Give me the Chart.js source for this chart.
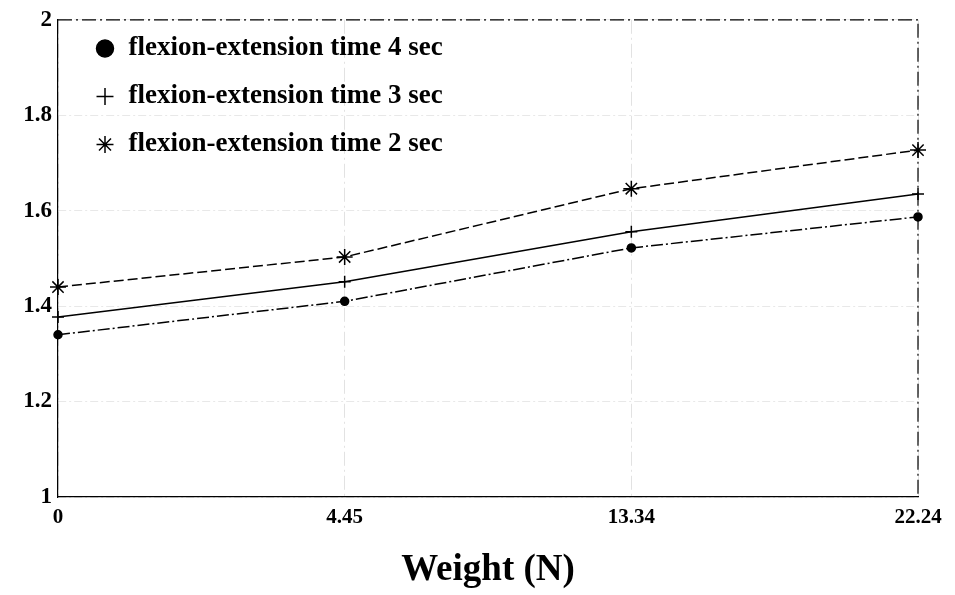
<!DOCTYPE html>
<html>
<head>
<meta charset="utf-8">
<script src="https://cdn.jsdelivr.net/npm/chart.js@4"></script>
<style>
  html, body { margin: 0; padding: 0; background: #fff; }
  #wrap { width: 955px; height: 595px; }
</style>
</head>
<body>
<div id="wrap"><canvas id="line-chart" width="955" height="595"></canvas></div>
<script>
// weights on the x axis (N)
const weights = ["0", "4.45", "13.34", "22.24"];
const time4 = [1.34, 1.41, 1.522, 1.587];
const time3 = [1.377, 1.451, 1.556, 1.635];
const time2 = [1.44, 1.503, 1.646, 1.727];
const yTicks = [1, 1.2, 1.4, 1.6, 1.8, 2];

const serif = "'Liberation Serif', 'DejaVu Serif', serif";

// dashed frame round the plot area
const frame = {
  id: 'frame',
  afterDatasetsDraw(chart) {
    const { ctx, chartArea: a } = chart;
    ctx.save();
    ctx.strokeStyle = '#000';
    ctx.lineWidth = 1.2;
    ctx.setLineDash([14, 4, 2, 4]);
    ctx.beginPath();
    ctx.moveTo(a.left, a.top);
    ctx.lineTo(a.right, a.top);
    ctx.lineTo(a.right, a.bottom);
    ctx.stroke();
    ctx.restore();
  }
};

// nudge the in-plot legend away from the corner
const legendShift = {
  id: 'legendShift',
  afterLayout(chart) {
    const lg = chart.legend;
    if (!lg) return;
    lg.left += 16;
    lg.right += 16;
    lg.top += 14;
    lg.bottom += 14;
  }
};

new Chart(document.getElementById("line-chart"), {
  type: 'line',
  data: {
    labels: weights,
    datasets: [
      {
        label: "flexion-extension time 4 sec",
        data: time4,
        borderColor: '#000',
        backgroundColor: '#000',
        borderWidth: 1.5,
        borderDash: [12, 3, 2, 3],
        pointStyle: 'circle',
        pointRadius: 4,
        tension: 0
      },
      {
        label: "flexion-extension time 3 sec",
        data: time3,
        borderColor: '#000',
        backgroundColor: '#000',
        borderWidth: 1.5,
        pointStyle: 'cross',
        pointRadius: 6,
        pointBorderWidth: 1.5,
        tension: 0
      },
      {
        label: "flexion-extension time 2 sec",
        data: time2,
        borderColor: '#000',
        backgroundColor: '#000',
        borderWidth: 1.5,
        borderDash: [10, 4],
        pointStyle: 'star',
        pointRadius: 8,
        pointBorderWidth: 1.5,
        tension: 0
      }
    ]
  },
  options: {
    responsive: false,
    animation: false,
    layout: { padding: { left: 8, right: 37, top: 8, bottom: 2 } },
    plugins: {
      legend: {
        position: 'chartArea',
        align: 'start',
        labels: {
          usePointStyle: true,
          boxWidth: 20,
          boxHeight: 12,
          padding: 21,
          color: '#000',
          font: { family: serif, size: 27, weight: 'bold' }
        }
      },
      tooltip: { enabled: false }
    },
    scales: {
      x: {
        offset: false,
        grid: { color: '#e2e2e2', lineWidth: 1, drawTicks: false },
        border: { color: '#000', dash: [14, 4, 2, 4], width: 1.2 },
        ticks: { color: '#000', padding: 8, maxRotation: 0, font: { family: serif, size: 21, weight: 'bold' } },
        afterFit: axis => { axis.height = 96; },
        title: {
          display: true,
          text: 'Weight (N)',
          color: '#000',
          padding: { top: 26, bottom: 0 },
          font: { family: serif, size: 37, weight: 'bold' }
        }
      },
      y: {
        min: 1,
        max: 2,
        afterBuildTicks: axis => { axis.ticks = yTicks.map(v => ({ value: v })); },
        afterFit: axis => { axis.width = 50; },
        grid: { color: '#e8e8e8', lineWidth: 1, drawTicks: false },
        border: { color: '#000', dash: [8, 3, 2, 3], width: 1.2 },
        ticks: {
          color: '#000',
          padding: 6,
          callback: v => String(v),
          font: { family: serif, size: 23, weight: 'bold' }
        }
      }
    }
  },
  plugins: [frame, legendShift]
});
</script>
</body>
</html>
